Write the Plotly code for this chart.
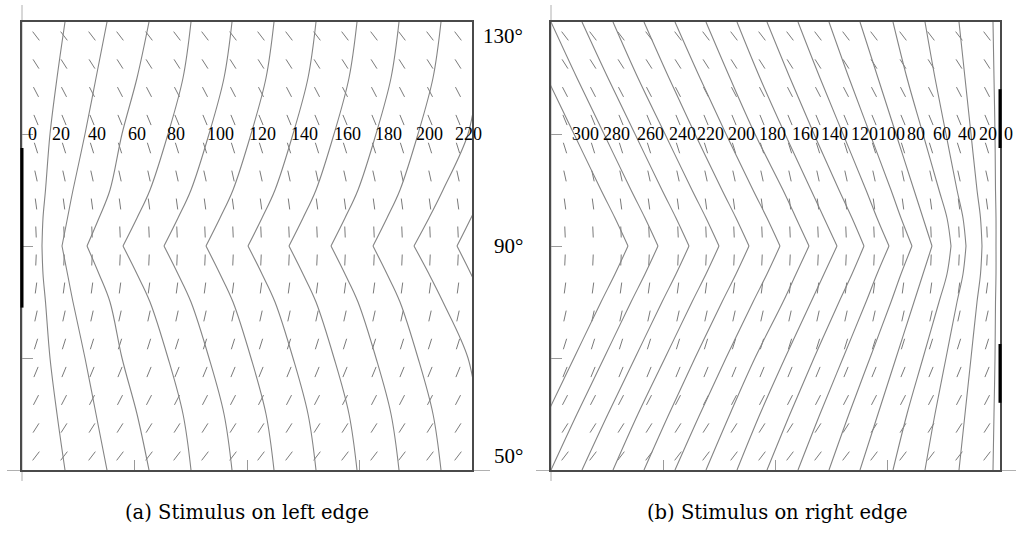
import math
import plotly.graph_objects as go

W, H = 1021, 535

# orientation levels (deg) where the isochrones were read; lower half mirrors the upper half
levels_upper = [130, 120, 110, 100, 95, 90]
levels_lower = [50, 60, 70, 80, 85, 90]

# (a) stimulus on left edge: isochrone x positions at levels_upper (x units 0..450)
left_times = [20, 40, 60, 80, 100, 120, 140, 160, 180, 200, 220, 240]
left_c20 = [43, 35, 28, 23.5, 21, 20]
left_c40 = [85, 74, 63, 51, 45.5, 40]
left_c60 = [127, 115, 100, 88, 77, 65]
left_c80 = [169, 161, 146, 128, 115, 101]
left_c100 = [210, 202, 187, 169, 156, 142]
left_c120 = [252, 244, 229, 211, 198, 184]
left_c140 = [294, 286, 271, 253, 240, 226]
left_c160 = [335, 327, 312, 294, 281, 267]
left_c180 = [377, 369, 354, 336, 323, 309]
left_c200 = [419, 411, 396, 378, 365, 351]
left_c220 = [462, 456, 446, 421, 407, 392]
left_c240 = [503, 495, 480, 462, 449, 435]
left_curves = [left_c20, left_c40, left_c60, left_c80, left_c100, left_c120,
               left_c140, left_c160, left_c180, left_c200, left_c220, left_c240]
left_labels = ["0", "20", "40", "60", "80", "100", "120", "140", "160", "180", "200", "220"]
left_label_x = [10, 39, 75, 115, 154, 198, 240, 282, 325, 366, 407, 446]

# (b) stimulus on right edge (x units 0..449)
right_c0 = [442, 443, 444, 444.5, 445, 445]
right_c20 = [408, 414, 420, 426, 429.5, 431]
right_c40 = [374, 384, 395, 406, 412, 415]
right_c60 = [342, 356, 372, 388, 396, 400]
right_c80 = [309, 327, 345, 363, 372, 381]
right_c100 = [278, 298, 319, 340, 350, 361]
right_c120 = [247, 269, 292, 315, 326, 338]
right_c140 = [216, 239, 263, 288, 301, 313]
right_c160 = [186, 209, 234, 260, 273, 286]
right_c180 = [155, 179, 204, 232, 245, 258]
right_c200 = [124, 149, 175, 202, 216, 229]
right_c220 = [93, 118, 144, 171, 185, 198]
right_c240 = [62, 87, 114, 141, 155, 168]
right_c260 = [31, 57, 84, 111, 125, 138]
right_c280 = [0, 26, 53, 80, 94, 107]
right_c300 = [-30, -4, 23, 50, 64, 77]
right_curves = [right_c0, right_c20, right_c40, right_c60, right_c80, right_c100,
                right_c120, right_c140, right_c160, right_c180, right_c200,
                right_c220, right_c240, right_c260, right_c280, right_c300]
right_labels = ["300", "280", "260", "240", "220", "200", "180", "160", "140",
                "120", "100", "80", "60", "40", "20", "0"]
right_label_x = [34, 65, 99, 131, 159, 190, 221, 254, 283, 313, 340, 365, 391, 416, 437, 457]

label_row = 110  # degrees

# orientation field grid
grid_cols = [14, 42, 70, 98, 127, 155, 183, 211, 239, 267, 295, 323, 352, 380, 408, 436]
grid_rows = [127.5, 122.5, 117.5, 112.5, 107.5, 102.5, 97.5, 92.5,
             87.5, 82.5, 77.5, 72.5, 67.5, 62.5, 57.5, 52.5]

# stimulus segments (degrees along the edge)
stim_left = [[79, 107.5]]
stim_right = [[62, 72.5], [107.5, 118]]

degree_ticks = [130, 90, 50]
captions = ["(a) Stimulus on left edge", "(b) Stimulus on right edge"]

# ---------------- layout geometry ----------------
LDOM = [22 / W, 472 / W]
RDOM = [551 / W, 1000 / W]
YDOM = [1 - 470 / H, 1 - 22 / H]
LRNG = [0, 450]
RRNG = [0, 449]
YRNG = [50, 130]
PX_PER_DEG = (470 - 22) / 80.0

FONT = "Liberation Serif"
CAP_FONT = "DejaVu Serif"
CURVE_COLOR = "#858585"
DASH_COLOR = "#7a7a7a"

fig = go.Figure()


def add_curves(curves, xa, ya):
    for vals in curves:
        xs = list(vals) + [None] + list(vals[::-1])
        ys = list(levels_upper) + [None] + list(levels_lower[::-1])
        fig.add_trace(go.Scatter(x=xs, y=ys, mode="lines", xaxis=xa, yaxis=ya,
                                 line=dict(color=CURVE_COLOR, width=1.1, shape="spline", smoothing=1.0),
                                 hoverinfo="skip", showlegend=False))


def add_dashes(xa, ya):
    half = 5.5
    xs, ys = [], []
    for r in grid_rows:
        t = math.radians(r)
        dx = half * math.cos(t)
        dy = half * math.sin(t) / PX_PER_DEG
        for c in grid_cols:
            xs += [c - dx, c + dx, None]
            ys += [r - dy, r + dy, None]
    fig.add_trace(go.Scatter(x=xs, y=ys, mode="lines", xaxis=xa, yaxis=ya,
                             line=dict(color=DASH_COLOR, width=1),
                             hoverinfo="skip", showlegend=False))


add_dashes("x", "y")
add_curves(left_curves, "x", "y")
add_dashes("x2", "y2")
add_curves(right_curves, "x2", "y2")


def px(p):
    return p / W


def py(p):
    return 1 - p / H


def ypaper(deg):
    return YDOM[0] + (deg - YRNG[0]) / (YRNG[1] - YRNG[0]) * (YDOM[1] - YDOM[0])


shapes = []
axis_gray = "#b0b0b0"
# extended coordinate axes
shapes.append(dict(type="line", xref="paper", yref="paper", x0=px(22), x1=px(22), y0=py(5), y1=py(481),
                   line=dict(color=axis_gray, width=1), layer="below"))
shapes.append(dict(type="line", xref="paper", yref="paper", x0=px(7), x1=px(490), y0=py(470.5), y1=py(470.5),
                   line=dict(color=axis_gray, width=1), layer="below"))
shapes.append(dict(type="line", xref="paper", yref="paper", x0=px(551), x1=px(551), y0=py(5), y1=py(481),
                   line=dict(color=axis_gray, width=1), layer="below"))
shapes.append(dict(type="line", xref="paper", yref="paper", x0=px(536), x1=px(1016), y0=py(470.5), y1=py(470.5),
                   line=dict(color=axis_gray, width=1), layer="below"))
# stimulus segments
for a, b in stim_left:
    shapes.append(dict(type="line", xref="paper", yref="paper", x0=LDOM[0], x1=LDOM[0],
                       y0=ypaper(a), y1=ypaper(b), line=dict(color="black", width=3)))
for a, b in stim_right:
    shapes.append(dict(type="line", xref="paper", yref="paper", x0=RDOM[1], x1=RDOM[1],
                       y0=ypaper(a), y1=ypaper(b), line=dict(color="black", width=3)))

annotations = []
for lab, xv in zip(left_labels, left_label_x):
    annotations.append(dict(text=lab, x=xv, y=label_row, xref="x", yref="y", showarrow=False,
                            xanchor="center", yanchor="middle",
                            font=dict(family=FONT, size=18, color="black")))
for lab, xv in zip(right_labels, right_label_x):
    xc = min(xv, RRNG[1])
    annotations.append(dict(text=lab, x=xc, y=label_row, xref="x2", yref="y2", showarrow=False,
                            xanchor="center", yanchor="middle", xshift=xv - xc,
                            font=dict(family=FONT, size=18, color="black")))
anchors = {130: "top", 90: "middle", 50: "bottom"}
for d in degree_ticks:
    annotations.append(dict(text=f"{d}°", x=px(525), y=d, xref="paper", yref="y", showarrow=False,
                            xanchor="right", yanchor=anchors[d],
                            font=dict(family=FONT, size=21, color="black")))
annotations.append(dict(text=captions[0], x=px(247), y=py(512), xref="paper", yref="paper",
                        showarrow=False, xanchor="center", yanchor="middle",
                        font=dict(family=CAP_FONT, size=19.5, color="black")))
annotations.append(dict(text=captions[1], x=px(777), y=py(512), xref="paper", yref="paper",
                        showarrow=False, xanchor="center", yanchor="middle",
                        font=dict(family=CAP_FONT, size=19.5, color="black")))

frame = dict(showline=True, mirror=True, linecolor="#4a4a4a", linewidth=2, showgrid=False,
             zeroline=False, showticklabels=False, ticks="inside", tickcolor="#9a9a9a")

fig.update_layout(
    width=W, height=H, margin=dict(l=0, r=0, t=0, b=0),
    paper_bgcolor="white", plot_bgcolor="white", showlegend=False, hovermode=False,
    xaxis=dict(domain=LDOM, range=LRNG, tickvals=[112.5, 225, 337.5], ticklen=10, **frame),
    yaxis=dict(domain=YDOM, range=YRNG, anchor="x", tickvals=[70, 90, 110], ticklen=11, **frame),
    xaxis2=dict(domain=RDOM, range=RRNG, anchor="y2", tickvals=[112.25, 224.5, 336.75], ticklen=10, **frame),
    yaxis2=dict(domain=YDOM, range=YRNG, anchor="x2", tickvals=[70, 90, 110], ticklen=11, **frame),
    shapes=shapes, annotations=annotations,
)

fig.write_html("out.html", config={"displayModeBar": False},
               post_script="document.body.style.margin='0';document.body.style.padding='0';")
